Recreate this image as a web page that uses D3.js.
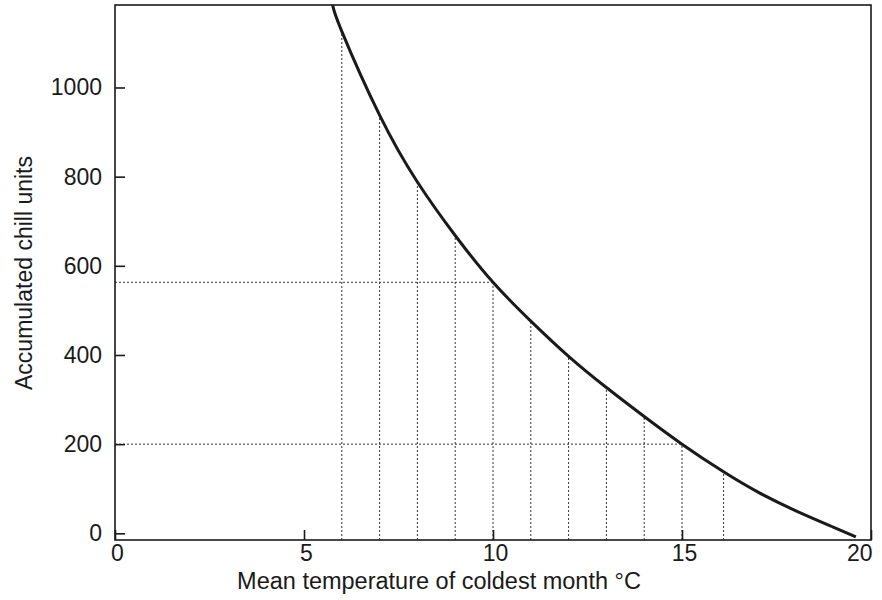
<!DOCTYPE html>
<html>
<head>
<meta charset="utf-8">
<script src="https://cdn.jsdelivr.net/npm/d3@7"></script>
<style>
  body { margin: 0; background: #fff; }
  text { font-family: "Liberation Sans", Arial, sans-serif; fill: #1a1a1a; }
</style>
</head>
<body>
<svg id="chart" width="882" height="600"></svg>
<script>
const width = 882;
const height = 600;

// curve (temperature °C, chill units)
const curveTemps = [5.76, 6, 7, 8, 9, 10, 11, 12, 13, 14, 15, 16.1, 17, 18, 19, 19.6];
const curveChill = [1185, 1126, 938, 788, 668, 563, 476, 397, 327, 262, 200, 138, 93, 51, 14, -8];

// dotted drop lines
const guideTemps = [6, 7, 8, 9, 10, 11, 12, 13, 14, 15, 16.1];
const guideChill = [1126, 938, 788, 668, 563, 476, 397, 327, 262, 200, 138];

// dotted horizontal lines (chill level, temperature where it meets the curve)
const levelChill = [563, 200];
const levelTemps = [10, 15];

const xTicks = [0, 5, 10, 15, 20];
const yTicks = [0, 200, 400, 600, 800, 1000];

const margin = {left: 115, right: 11, top: 5, bottom: 60};

const x = d3.scaleLinear().domain([0, 20]).range([margin.left, width - margin.right]);
const y = d3.scaleLinear().domain([-15, 1185]).range([height - margin.bottom, margin.top]);

const svg = d3.select("#chart");

// dotted guides
svg.append("g")
    .selectAll("line")
    .data(guideTemps)
    .join("line")
    .attr("x1", d => x(d))
    .attr("x2", d => x(d))
    .attr("y1", y(-15))
    .attr("y2", (d, i) => y(guideChill[i]))
    .attr("stroke", "#333")
    .attr("stroke-width", 1)
    .attr("stroke-dasharray", "2,2");

svg.append("g")
    .selectAll("line")
    .data(levelChill)
    .join("line")
    .attr("x1", x(0))
    .attr("x2", (d, i) => x(levelTemps[i]))
    .attr("y1", d => y(d))
    .attr("y2", d => y(d))
    .attr("stroke", "#333")
    .attr("stroke-width", 1)
    .attr("stroke-dasharray", "2,2");

// the curve
const pts = curveTemps.map((t, i) => [t, curveChill[i]]);
svg.append("path")
    .datum(pts)
    .attr("fill", "none")
    .attr("stroke", "#1a1a1a")
    .attr("stroke-width", 3)
    .attr("d", d3.line().x(d => x(d[0])).y(d => y(d[1])).curve(d3.curveNatural));

// frame
svg.append("rect")
    .attr("x", x(0))
    .attr("y", y(1185))
    .attr("width", x(20) - x(0))
    .attr("height", y(-15) - y(1185))
    .attr("fill", "none")
    .attr("stroke", "#1a1a1a")
    .attr("stroke-width", 1.6);

// axes, ticks pointing inward
const xAxis = svg.append("g")
    .attr("transform", `translate(0,${y(-15)})`)
    .call(d3.axisBottom(x).tickValues(xTicks).tickSizeInner(-10).tickSizeOuter(0).tickPadding(5));
xAxis.select(".domain").remove();
xAxis.selectAll("line").attr("stroke", "#1a1a1a").attr("stroke-width", 1.6);
xAxis.selectAll("text")
    .attr("font-size", 23)
    .attr("font-family", "Liberation Sans, Arial, sans-serif")
    .attr("fill", "#1a1a1a")
    .attr("text-anchor", d => d === 20 ? "end" : "middle")
    .attr("x", d => d === 20 ? 1 : 2);

const yAxis = svg.append("g")
    .attr("transform", `translate(${x(0)},0)`)
    .call(d3.axisLeft(y).tickValues(yTicks).tickFormat(d3.format("d"))
        .tickSizeInner(-10).tickSizeOuter(0).tickPadding(13));
yAxis.select(".domain").remove();
yAxis.selectAll("line").attr("stroke", "#1a1a1a").attr("stroke-width", 1.6);
yAxis.selectAll("text")
    .attr("font-size", 23)
    .attr("font-family", "Liberation Sans, Arial, sans-serif")
    .attr("fill", "#1a1a1a");

// axis titles
svg.append("text")
    .attr("x", 439)
    .attr("y", 589)
    .attr("text-anchor", "middle")
    .attr("font-size", 23.5)
    .text("Mean temperature of coldest month °C");

svg.append("text")
    .attr("transform", "translate(32,273) rotate(-90)")
    .attr("text-anchor", "middle")
    .attr("font-size", 23)
    .text("Accumulated chill units");
</script>
</body>
</html>
